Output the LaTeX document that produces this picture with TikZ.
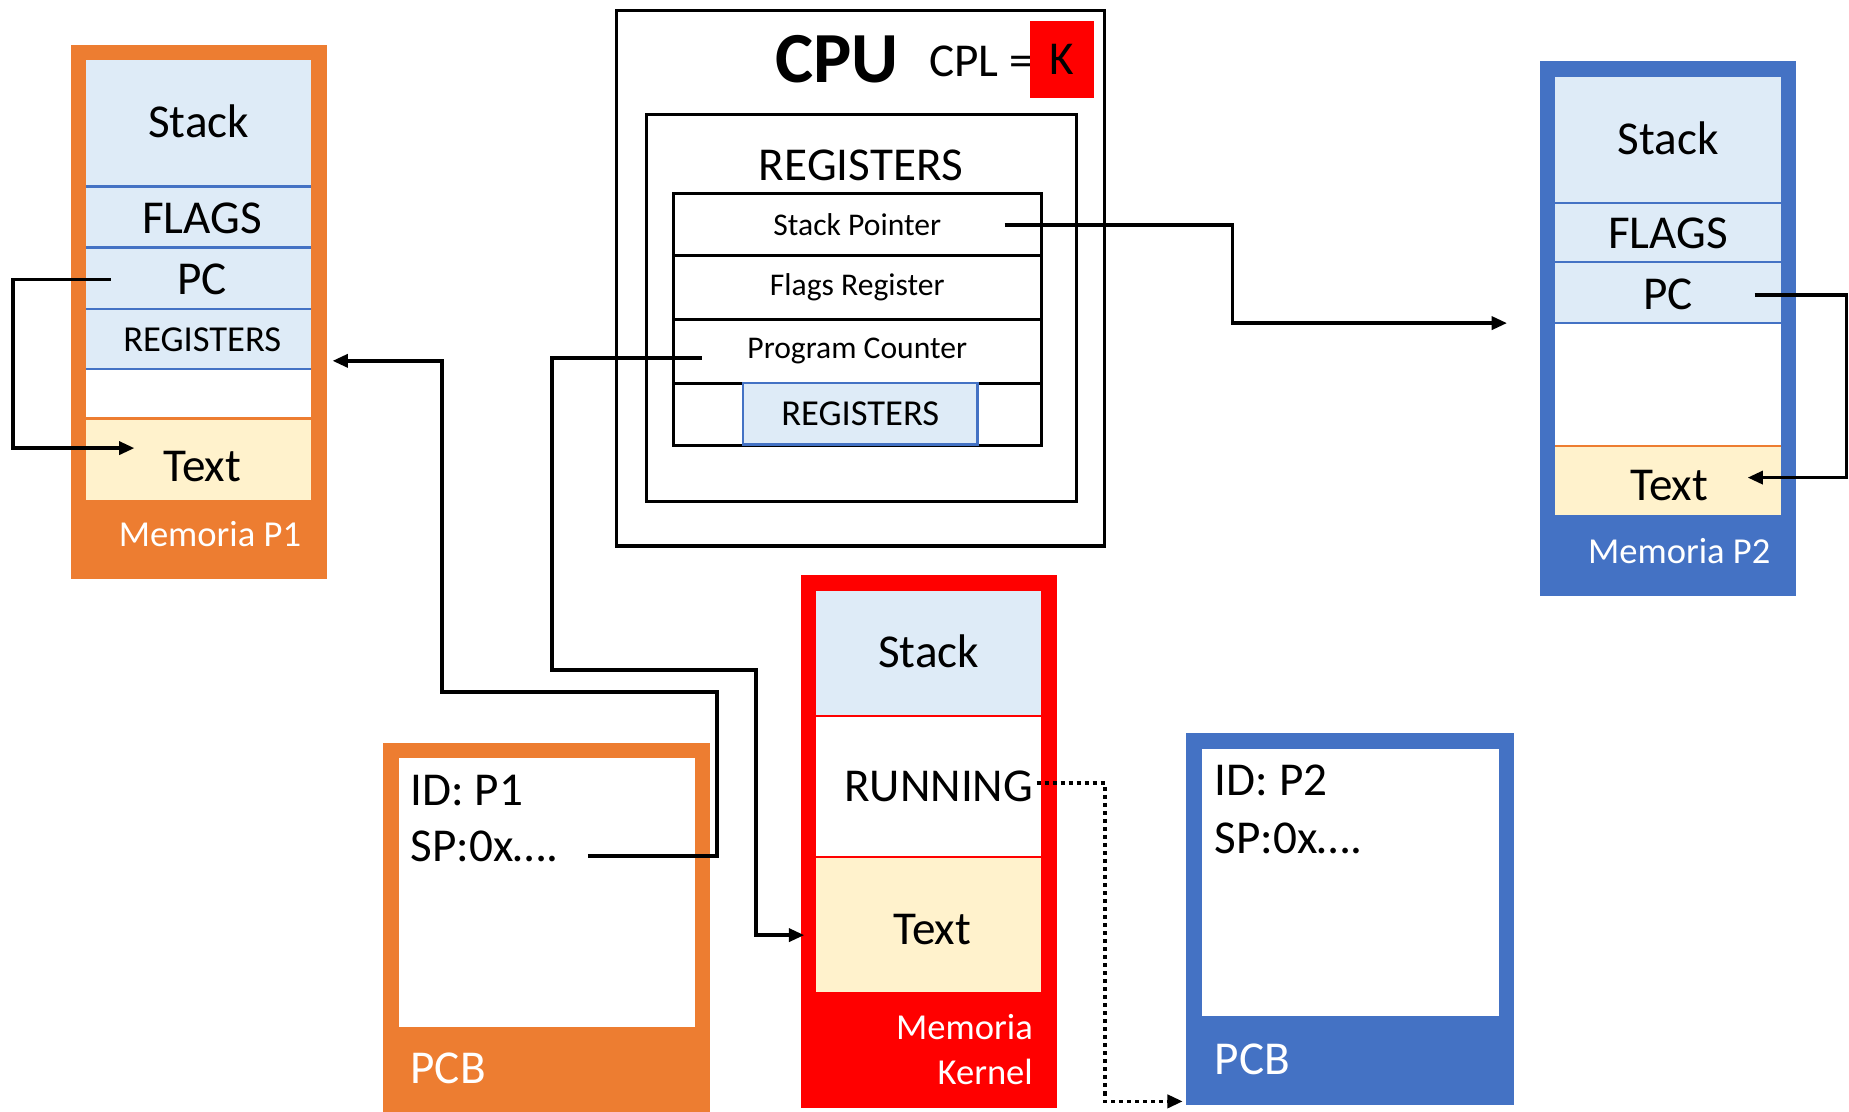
\documentclass[tikz,border=0pt]{standalone}
\usepackage{fontspec}
\setmainfont{Carlito}
\usetikzlibrary{arrows.meta,calc}
\definecolor{orng}{HTML}{ED7D31}
\definecolor{blu}{HTML}{4472C4}
\definecolor{lblue}{HTML}{DEEBF7}
\definecolor{cream}{HTML}{FFF2CC}
\definecolor{kred}{HTML}{FF0000}
\newcommand{\fbig}{\fontsize{40}{46}\selectfont}
\newcommand{\fmid}{\fontsize{31}{36}\selectfont}
\newcommand{\fsmall}{\fontsize{26.8}{31}\selectfont}
\begin{document}
\begin{tikzpicture}[x=1pt,y=-1pt,
  field/.style={inner sep=0pt,outer sep=0pt},
  stackf/.style={field,fill=lblue},
  textf/.style={field,fill=cream},
  whitef/.style={field,fill=white},
  big/.style={inner sep=0pt,font=\fbig,text=black},
  mid/.style={inner sep=0pt,font=\fmid,text=black},
  sepb/.style={blu,line width=2pt},
  sepo/.style={orng,line width=2pt},
  sepr/.style={kred,line width=2pt},
  frame/.style={line width=2.6pt,draw=black},
  regrow/.style={inner sep=0pt,outer sep=0pt,draw=black,line width=2.4pt,font=\fsmall,fill=white},
  conn/.style={line width=3pt,draw=black},
  arr/.style={-{Triangle[length=13pt,width=11pt]}},
  lbl/.style={inner sep=0pt,font=\fmid,text=white},
  pcbtxt/.style={inner sep=0pt,font=\fbig,anchor=west,text=black}
]
\useasboundingbox (0,0) rectangle (1568,943);
\fill[white] (0,0) rectangle (1568,943);

% ---------------- Memoria P1 ----------------
\fill[orng] (60,38) rectangle (277,491);
\node[stackf,minimum width=191pt,minimum height=107pt] (p1stack) at (168.5,104.5) {};
\node[stackf,minimum width=191pt,minimum height=52pt] (p1flags) at (168.5,184) {};
\node[stackf,minimum width=191pt,minimum height=52pt] (p1pc) at (168.5,236) {};
\node[stackf,minimum width=191pt,minimum height=51pt] (p1regs) at (168.5,287.5) {};
\node[whitef,minimum width=191pt,minimum height=42pt] (p1free) at (168.5,334) {};
\node[textf,minimum width=191pt,minimum height=69pt] (p1text) at (168.5,389.5) {};
\draw[sepb] (p1stack.south west) -- (p1stack.south east);
\draw[sepb] (p1flags.south west) -- (p1flags.south east);
\draw[sepb] (p1pc.south west) -- (p1pc.south east);
\draw[sepb] (p1regs.south west) -- (p1regs.south east);
\draw[sepo] (p1text.north west) -- (p1text.north east);
\node[big] (p1stackt) at ($(p1stack)+(0,-2)$) {Stack};
\node[big] (p1flagst) at ($(p1flags)+(3,1)$) {FLAGS};
\node[big] (p1pct) at ($(p1pc)+(3,1)$) {PC};
\node[mid] (p1regst) at ($(p1regs)+(3,1)$) {REGISTERS};
\node[big] (p1textt) at ($(p1text)+(3,6)$) {Text};
\node[lbl] (p1lbl) at (178,453) {Memoria P1};

% ---------------- Memoria P2 ----------------
\fill[blu] (1306,52) rectangle (1523,505);
\node[stackf,minimum width=191pt,minimum height=107pt] (p2stack) at (1414.5,118.5) {};
\node[stackf,minimum width=191pt,minimum height=50pt] (p2flags) at (1414.5,197) {};
\node[stackf,minimum width=191pt,minimum height=52pt] (p2pc) at (1414.5,248) {};
\node[whitef,minimum width=191pt,minimum height=104pt] (p2free) at (1414.5,326) {};
\node[textf,minimum width=191pt,minimum height=59pt] (p2text) at (1414.5,407.5) {};
\draw[sepb] (p2stack.south west) -- (p2stack.south east);
\draw[sepb] (p2flags.south west) -- (p2flags.south east);
\draw[sepb] (p2pc.south west) -- (p2pc.south east);
\draw[sepo] (p2text.north west) -- (p2text.north east);
\node[big] (p2stackt) at ($(p2stack)+(0,-1.5)$) {Stack};
\node[big] (p2flagst) at ($(p2flags)+(0,1)$) {FLAGS};
\node[big] (p2pct) at ($(p2pc)+(0,2)$) {PC};
\node[big] (p2textt) at ($(p2text)+(1,4)$) {Text};
\node[lbl] (p2lbl) at (1424,467) {Memoria P2};

% ---------------- CPU ----------------
\node[frame,inner sep=0pt,minimum width=414pt,minimum height=454pt] (cpu) at (730,236) {};
\node[inner sep=0pt,font=\fontsize{61}{70}\selectfont\bfseries] (cputxt) at (710,50) {CPU};
\node[inner sep=0pt,font=\fbig,anchor=west] (cpl) at (788,52) {CPL =};
\node[fill=kred,inner sep=0pt,minimum width=54pt,minimum height=66pt,font=\fbig] (cplk) at (900.5,50.5) {K};
\node[frame,inner sep=0pt,minimum width=365pt,minimum height=328pt] (regs) at (730.5,261) {};
\node[inner sep=0pt,font=\fbig] (regstitle) at (730,140) {REGISTERS};
\node[regrow,minimum width=312pt,minimum height=53pt] (rsp) at (727,190.5) {Stack Pointer};
\node[regrow,minimum width=312pt,minimum height=54pt] (rflags) at (727,244) {Flags Register};
\node[regrow,minimum width=312pt,minimum height=54pt] (rpc) at (727,298) {Program Counter};
\node[regrow,minimum width=312pt,minimum height=53pt] (rlast) at (727,351.5) {};
\node[inner sep=0pt,fill=lblue,draw=blu,line width=2pt,minimum width=199pt,minimum height=52pt,font=\fmid] (rregs) at (729.5,351) {REGISTERS};

% ---------------- Memoria Kernel ----------------
\fill[kred] (679,488) rectangle (896,940);
\node[stackf,minimum width=191pt,minimum height=106pt] (kstack) at (787.5,554) {};
\node[whitef,minimum width=191pt,minimum height=120pt] (krun) at (787.5,667) {};
\node[textf,minimum width=191pt,minimum height=114pt] (ktext) at (787.5,784) {};
\draw[sepr] (kstack.south west) -- (kstack.south east);
\draw[sepr] (krun.south west) -- (krun.south east);
\node[big] (kstackt) at ($(kstack)+(0,-2)$) {Stack};
\node[big] (krunt) at ($(krun)+(8.5,0)$) {RUNNING};
\node[big] (ktextt) at ($(ktext)+(3,4)$) {Text};
\node[lbl,anchor=east] (klbl1) at (876,871) {Memoria};
\node[lbl,anchor=east] (klbl2) at (876,909) {Kernel};

% ---------------- PCB P1 ----------------
\fill[orng] (325,630) rectangle (602,943);
\node[whitef,minimum width=251pt,minimum height=228pt] (pcb1in) at (463.5,757) {};
\node[pcbtxt] (pcb1id) at (348,670) {ID: P1};
\node[pcbtxt] (pcb1sp) at (348,718) {SP:0x….};
\node[pcbtxt,text=white] (pcb1lbl) at (348,906) {PCB};

% ---------------- PCB P2 ----------------
\fill[blu] (1006,622) rectangle (1284,937);
\node[whitef,minimum width=252pt,minimum height=227pt] (pcb2in) at (1145,748.5) {};
\node[pcbtxt] (pcb2id) at (1030,662) {ID: P2};
\node[pcbtxt] (pcb2sp) at (1030,711) {SP:0x….};
\node[pcbtxt,text=white] (pcb2lbl) at (1030,898) {PCB};

% ---------------- Connectors ----------------
% P1 PC -> P1 Text
\draw[conn,arr] ($(p1pc.west)+(21,1)$) -- ++(-83,0) |- ($(p1text.west)+(41,-9.5)$);
% P2 PC -> P2 Text
\draw[conn,arr] ($(p2pc.east)+(-22,2)$) -- ++(78,0) |- ($(p2text.east)+(-28,-2.5)$);
% Stack Pointer -> towards P2
\coordinate (sptarget) at ($(p2free.north west)+(-41,0)$);
\draw[conn,arr] ($(rsp.east)+(-31,0.5)$) -| (1045,274) -- (sptarget);
% Program Counter -> Kernel Text
\draw[conn,arr] ($(rpc.west)+(24,5.5)$) -- (468,303.5) -- (468,568) -- (641,568) |- ($(ktext.west)+(-10,9)$);
% PCB P1 SP -> Memoria P1
\draw[conn,arr] ($(pcb1sp.east)+(25,8)$) -- (608,726) -- (608,587) -- (375,587) |- ($(p1regs.east)+(18,18.5)$);
% RUNNING -> PCB P2 (dotted)
\draw[line width=3.2pt,dash pattern=on 3.4pt off 3.4pt,arr] ($(krun.east)+(-4,-3)$) -- (937,664) |- ($(pcb2lbl.west)+(-27,36)$);
\end{tikzpicture}
\end{document}
